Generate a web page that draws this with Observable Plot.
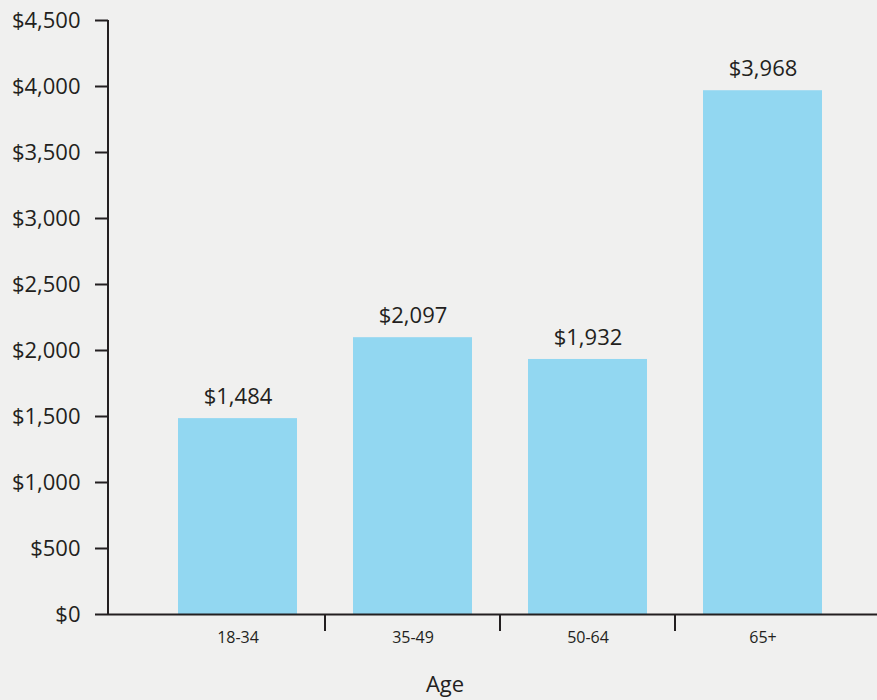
<!DOCTYPE html>
<html>
<head>
<meta charset="utf-8">
<script src="https://cdn.jsdelivr.net/npm/d3@7"></script>
<script src="https://cdn.jsdelivr.net/npm/@observablehq/plot@0.6"></script>
<style>
  html, body { margin: 0; padding: 0; background: #f0f0ef; }
  #chart { width: 877px; height: 700px; }
</style>
</head>
<body>
<div id="chart"></div>
<script>
const ageGroups = ["18-34", "35-49", "50-64", "65+"];
const amounts = [1484, 2097, 1932, 3968];
const yTicks = [0, 500, 1000, 1500, 2000, 2500, 3000, 3500, 4000, 4500];
const axisTitle = "Age";

const data = ageGroups.map((g, i) => ({age: g, value: amounts[i]}));
const dividers = ageGroups.slice(1);
const ink = "#231f20";
const money = d3.format("$,");

const yAxisLine = (index, scales, values, dims) => {
  const line = d3.create("svg:line")
    .attr("x1", dims.marginLeft).attr("x2", dims.marginLeft)
    .attr("y1", scales.y(4500)).attr("y2", scales.y(0) + 1)
    .attr("stroke", ink).attr("stroke-width", 2);
  return line.node();
};

const chart = Plot.plot({
  width: 877,
  height: 700,
  marginLeft: 108,
  marginRight: 0,
  marginTop: 20,
  marginBottom: 86,
  style: {fontFamily: "'Open Sans', sans-serif", background: "#f0f0ef", color: ink},
  x: {domain: ageGroups, range: [150, 850], paddingInner: 0.32, paddingOuter: 0.16, label: null},
  y: {domain: [0, 4500], label: null},
  marks: [
    Plot.barY(data, {x: "age", y: "value", fill: "#92d7f1"}),
    Plot.ruleY([0], {stroke: ink, strokeWidth: 2}),
    yAxisLine,
    Plot.axisY({ticks: yTicks, tickSize: 13, tickPadding: 15, tickFormat: money, fontSize: 22, stroke: ink, strokeWidth: 2, fill: ink, label: null}),
    Plot.axisX({tickSize: 0, tickPadding: 17, fontSize: 16, fill: ink, label: null}),
    Plot.ruleX(dividers, {x: d => d, y1: 0, y2: 0, insetBottom: -17, dx: -88, stroke: ink, strokeWidth: 2}),
    Plot.text(data, {x: "age", y: "value", text: d => money(d.value), dy: -22, fontSize: 22, fill: ink}),
    Plot.text([axisTitle], {frameAnchor: "bottom", dy: 77, dx: -48, fontSize: 22, fill: ink})
  ]
});
document.getElementById("chart").appendChild(chart);
</script>
</body>
</html>
